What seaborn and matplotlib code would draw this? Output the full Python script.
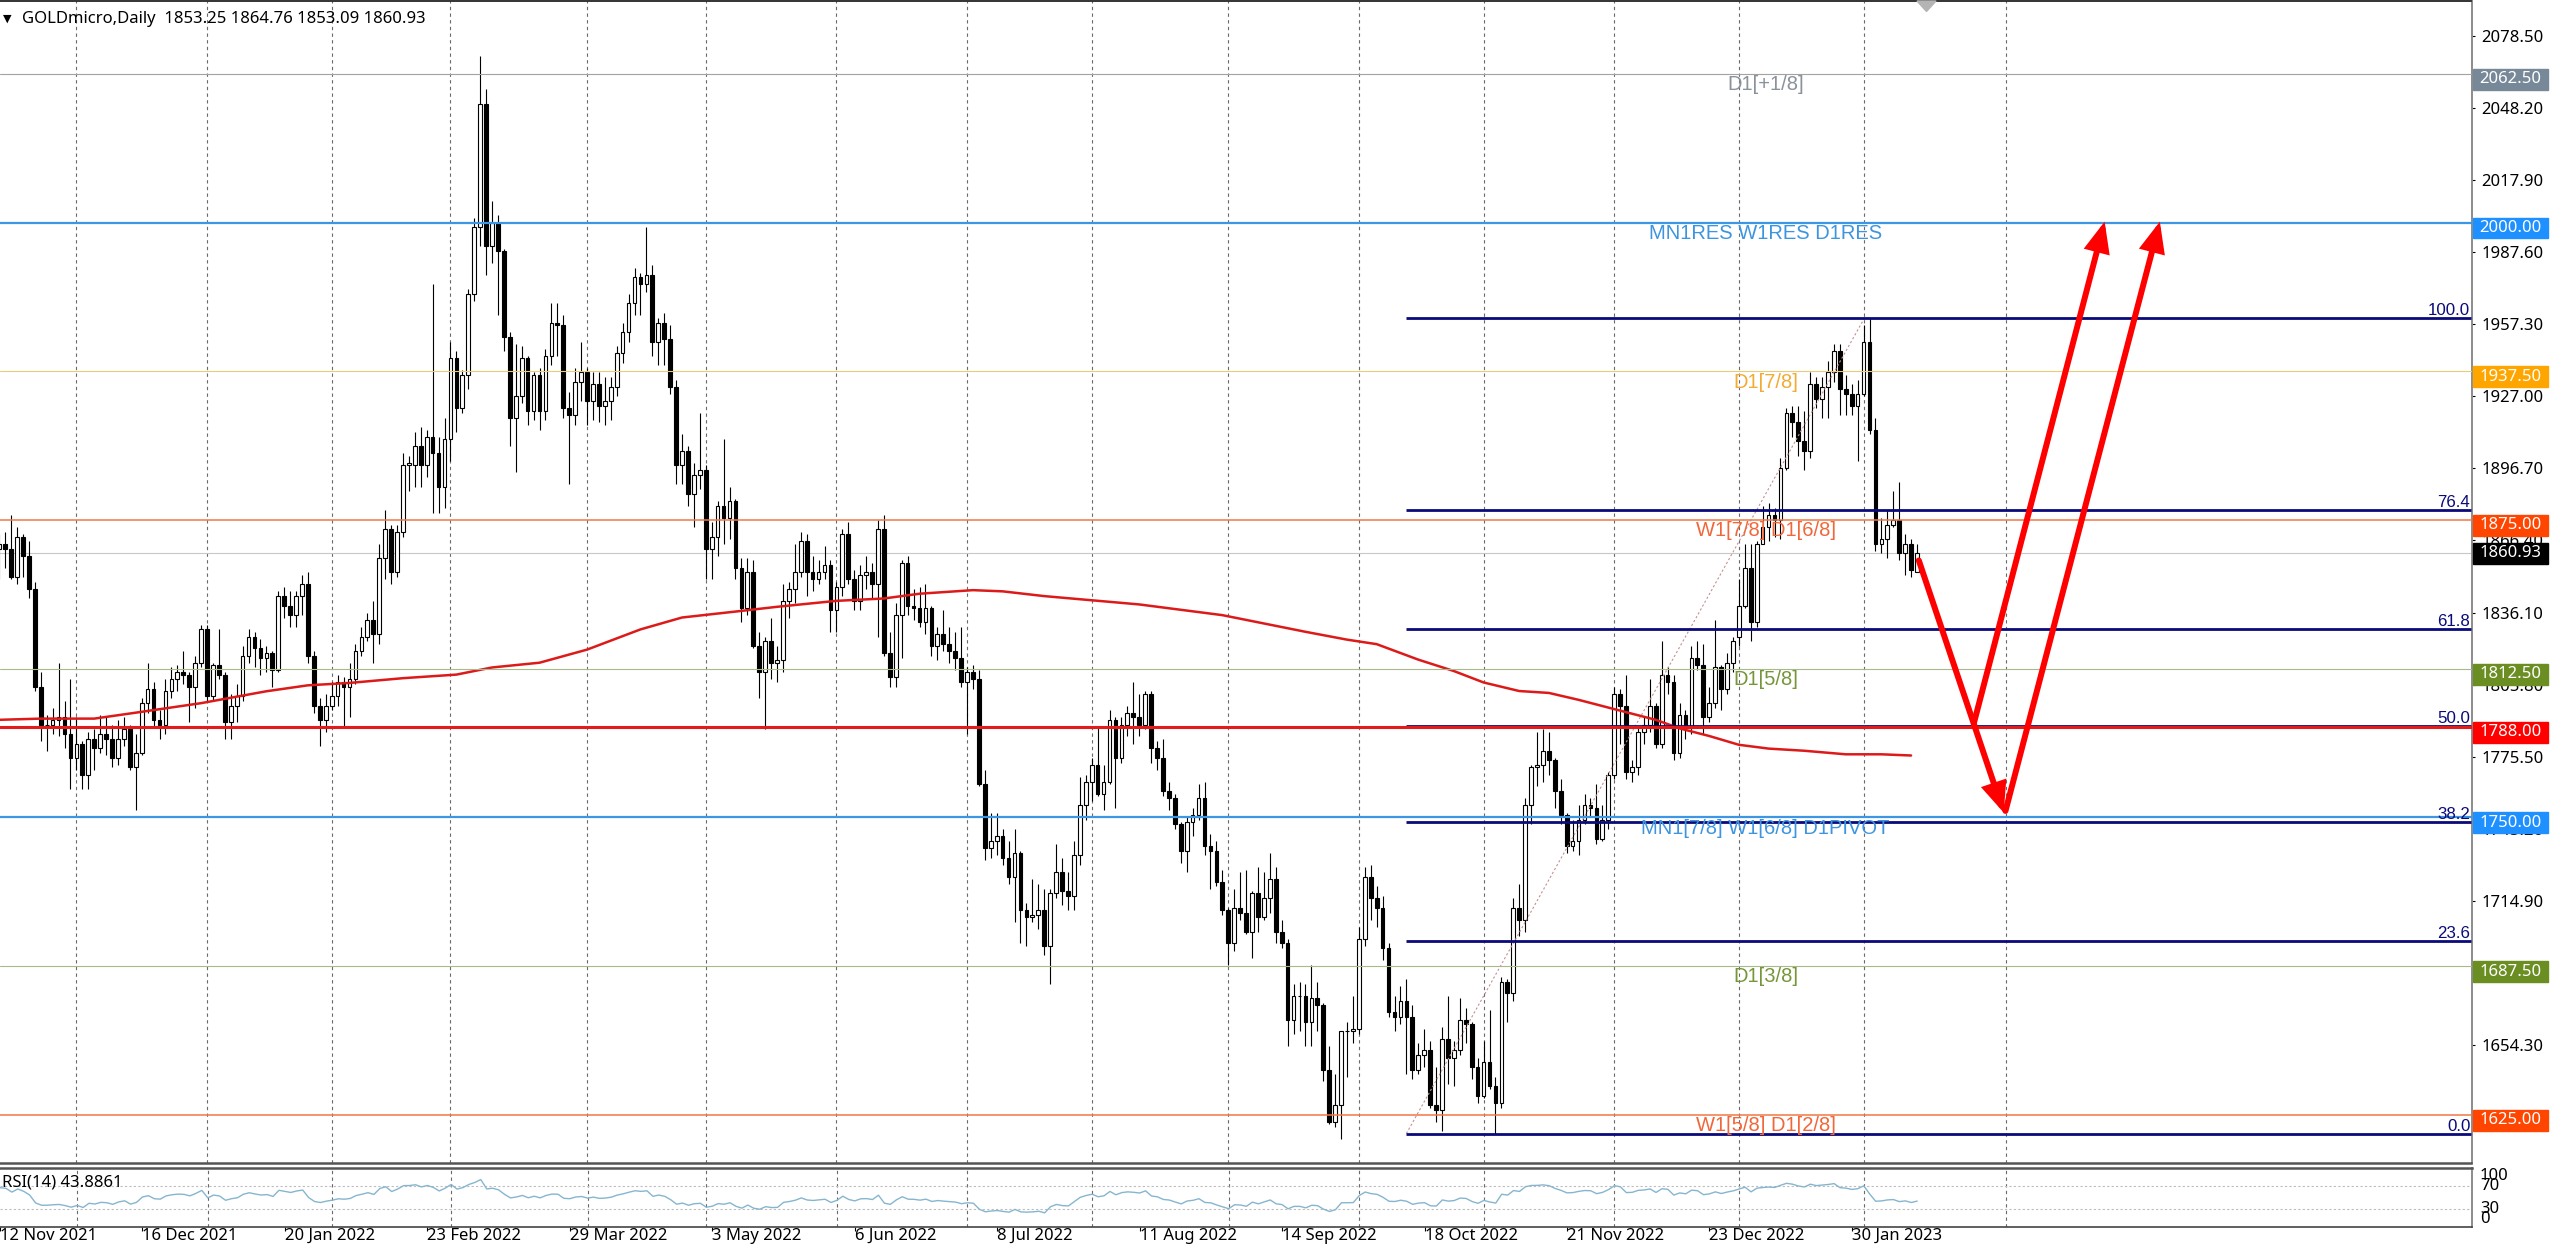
import numpy as np
import pandas as pd
import matplotlib
matplotlib.use("Agg")
import matplotlib.pyplot as plt
import matplotlib.transforms as mtransforms
from matplotlib.patches import Rectangle, Polygon
import seaborn as sns

# daily bars, bar 0 = 12 Nov 2021 ... bar 323 = 14 Feb 2023
OPEN = [1863, 1865, 1863, 1851, 1868, 1860, 1846, 1805, 1789, 1789, 1791, 1792, 1785, 1775, 1781, 1768, 1783, 1779, 1785, 1783,
        1775, 1783, 1787, 1771, 1777, 1798, 1804, 1791, 1789, 1803, 1808, 1811, 1810, 1805, 1815, 1829, 1801, 1814, 1810, 1790,
        1797, 1801, 1818, 1826, 1821, 1817, 1819, 1812, 1843, 1839, 1835, 1843, 1848, 1818, 1797, 1791, 1797, 1801, 1807, 1805,
        1808, 1820, 1826, 1833, 1827, 1859, 1871, 1853, 1870, 1898, 1898, 1906, 1898, 1910, 1903, 1889, 1909, 1943, 1922, 1936,
        1970, 1998, 2050, 1990, 2000, 1988, 1952, 1918, 1927, 1943, 1921, 1936, 1921, 1944, 1958, 1957, 1922, 1919, 1933, 1937,
        1925, 1932, 1923, 1925, 1931, 1945, 1954, 1966, 1977, 1974, 1978, 1950, 1958, 1951, 1931, 1898, 1904, 1886, 1894, 1896,
        1863, 1868, 1881, 1876, 1883, 1855, 1838, 1853, 1822, 1811, 1824, 1815, 1816, 1841, 1846, 1853, 1866, 1853, 1850, 1853,
        1856, 1837, 1847, 1869, 1850, 1841, 1852, 1853, 1848, 1871, 1819, 1809, 1835, 1857, 1839, 1838, 1832, 1838, 1822, 1827,
        1823, 1820, 1817, 1807, 1811, 1808, 1764, 1737, 1740, 1742, 1733, 1725, 1735, 1711, 1708, 1709, 1711, 1696, 1718, 1727,
        1719, 1717, 1734, 1755, 1765, 1772, 1760, 1765, 1791, 1775, 1789, 1794, 1792, 1789, 1802, 1779, 1775, 1761, 1758, 1747,
        1736, 1748, 1751, 1758, 1738, 1736, 1723, 1711, 1697, 1712, 1710, 1702, 1718, 1708, 1716, 1724, 1702, 1697, 1665, 1675,
        1675, 1664, 1674, 1671, 1644, 1622, 1629, 1660, 1660, 1661, 1699, 1725, 1716, 1712, 1695, 1668, 1666, 1673, 1666, 1644,
        1650, 1652, 1629, 1627, 1657, 1649, 1652, 1665, 1663, 1645, 1633, 1647, 1637, 1630, 1681, 1676, 1712, 1707, 1755, 1771,
        1772, 1778, 1774, 1761, 1751, 1738, 1740, 1749, 1755, 1754, 1741, 1749, 1768, 1802, 1797, 1769, 1771, 1786, 1789, 1797,
        1781, 1810, 1807, 1777, 1793, 1788, 1817, 1814, 1792, 1798, 1813, 1804, 1815, 1826, 1839, 1855, 1832, 1865, 1872, 1877,
        1875, 1897, 1920, 1916, 1908, 1904, 1932, 1926, 1931, 1937, 1946, 1930, 1928, 1923, 1928, 1950, 1913, 1865, 1867, 1873,
        1875, 1861, 1865, 1853.25]
HIGH = [1869, 1870, 1877, 1872, 1869, 1866, 1849, 1811, 1793, 1796, 1815, 1799, 1808, 1792, 1782, 1786, 1787, 1793, 1792, 1789,
        1791, 1792, 1789, 1785, 1800, 1815, 1807, 1795, 1808, 1813, 1814, 1820, 1811, 1818, 1831, 1831, 1815, 1829, 1811, 1802,
        1806, 1822, 1829, 1828, 1825, 1822, 1820, 1845, 1847, 1845, 1845, 1852, 1853, 1820, 1800, 1802, 1807, 1810, 1809, 1815,
        1823, 1830, 1836, 1841, 1865, 1879, 1873, 1873, 1903, 1902, 1912, 1914, 1913, 1974, 1910, 1918, 1950, 1946, 1938, 1972,
        2002, 2070, 2056, 2009, 2003, 1989, 1954, 1949, 1948, 1944, 1937, 1939, 1947, 1966, 1966, 1961, 1929, 1939, 1950, 1939,
        1937, 1937, 1935, 1935, 1948, 1958, 1970, 1981, 1979, 1998, 1982, 1960, 1962, 1957, 1934, 1911, 1906, 1899, 1920, 1898,
        1874, 1883, 1909, 1889, 1884, 1859, 1859, 1858, 1828, 1826, 1834, 1822, 1848, 1849, 1865, 1870, 1869, 1860, 1858, 1864,
        1858, 1849, 1871, 1874, 1854, 1856, 1860, 1857, 1875, 1877, 1828, 1840, 1858, 1860, 1846, 1847, 1848, 1839, 1830, 1837,
        1830, 1828, 1830, 1813, 1814, 1812, 1770, 1752, 1752, 1745, 1740, 1745, 1736, 1714, 1724, 1722, 1720, 1720, 1739, 1733,
        1727, 1740, 1767, 1768, 1775, 1788, 1772, 1795, 1792, 1792, 1797, 1807, 1802, 1803, 1803, 1782, 1783, 1765, 1760, 1748,
        1750, 1754, 1764, 1765, 1743, 1740, 1728, 1712, 1720, 1727, 1728, 1719, 1729, 1727, 1735, 1729, 1707, 1699, 1680, 1681,
        1680, 1688, 1681, 1672, 1654, 1642, 1660, 1664, 1675, 1704, 1729, 1730, 1721, 1717, 1697, 1675, 1679, 1682, 1671, 1655,
        1661, 1656, 1645, 1662, 1675, 1656, 1674, 1670, 1664, 1649, 1656, 1669, 1641, 1683, 1682, 1716, 1722, 1758, 1772, 1786,
        1787, 1786, 1775, 1766, 1752, 1749, 1755, 1760, 1758, 1764, 1755, 1769, 1805, 1804, 1810, 1774, 1788, 1792, 1808, 1798,
        1824, 1813, 1810, 1798, 1795, 1822, 1824, 1823, 1805, 1833, 1814, 1819, 1826, 1850, 1865, 1865, 1866, 1881, 1882, 1880,
        1901, 1922, 1923, 1923, 1921, 1937, 1935, 1935, 1942, 1949, 1949, 1936, 1932, 1934, 1957, 1960, 1918, 1876, 1879, 1887,
        1891, 1869, 1867, 1864.76]
LOW = [1850, 1855, 1850, 1848, 1851, 1842, 1803, 1782, 1778, 1785, 1784, 1779, 1762, 1770, 1762, 1762, 1770, 1777, 1776, 1771,
       1772, 1780, 1770, 1753, 1776, 1794, 1788, 1783, 1785, 1800, 1803, 1806, 1790, 1796, 1813, 1799, 1799, 1808, 1783, 1783,
       1790, 1799, 1815, 1813, 1810, 1811, 1805, 1811, 1834, 1830, 1830, 1835, 1815, 1794, 1780, 1786, 1795, 1797, 1788, 1792,
       1806, 1818, 1824, 1815, 1823, 1850, 1848, 1851, 1868, 1887, 1889, 1889, 1893, 1878, 1878, 1880, 1900, 1912, 1920, 1930,
       1967, 1990, 1978, 1983, 1961, 1946, 1906, 1895, 1924, 1915, 1917, 1913, 1917, 1940, 1944, 1918, 1890, 1915, 1925, 1915,
       1917, 1916, 1915, 1917, 1927, 1941, 1950, 1961, 1961, 1971, 1944, 1940, 1940, 1928, 1890, 1890, 1881, 1872, 1888, 1850,
       1850, 1860, 1865, 1867, 1850, 1832, 1835, 1821, 1800, 1787, 1808, 1807, 1811, 1834, 1840, 1851, 1843, 1845, 1848, 1850,
       1828, 1828, 1843, 1848, 1837, 1837, 1846, 1842, 1826, 1818, 1805, 1805, 1817, 1835, 1833, 1830, 1827, 1818, 1816, 1820,
       1815, 1812, 1805, 1785, 1804, 1763, 1732, 1733, 1734, 1730, 1722, 1706, 1697, 1696, 1706, 1703, 1692, 1680, 1716, 1713,
       1711, 1711, 1730, 1749, 1757, 1759, 1753, 1764, 1754, 1773, 1784, 1781, 1784, 1787, 1773, 1770, 1759, 1753, 1745, 1731,
       1727, 1742, 1749, 1734, 1720, 1721, 1709, 1688, 1694, 1707, 1701, 1691, 1702, 1707, 1710, 1697, 1695, 1654, 1659, 1660,
       1654, 1654, 1660, 1639, 1621, 1620, 1615, 1641, 1655, 1659, 1696, 1707, 1704, 1690, 1666, 1660, 1663, 1642, 1640, 1642,
       1645, 1628, 1622, 1618, 1638, 1637, 1650, 1655, 1640, 1630, 1632, 1636, 1617, 1628, 1664, 1673, 1700, 1702, 1747, 1763,
       1765, 1768, 1754, 1747, 1735, 1736, 1734, 1747, 1750, 1739, 1740, 1745, 1766, 1781, 1766, 1765, 1768, 1781, 1786, 1779,
       1779, 1802, 1774, 1775, 1783, 1785, 1812, 1785, 1790, 1796, 1795, 1802, 1811, 1822, 1838, 1824, 1830, 1865, 1866, 1868,
       1867, 1896, 1910, 1902, 1896, 1901, 1922, 1918, 1918, 1933, 1919, 1919, 1919, 1900, 1927, 1911, 1862, 1861, 1859, 1872,
       1858, 1852, 1851, 1853.09]
CLOSE = [1865, 1863, 1851, 1868, 1860, 1846, 1805, 1789, 1789, 1791, 1792, 1785, 1775, 1781, 1768, 1783, 1779, 1785, 1783, 1775,
         1783, 1787, 1771, 1777, 1798, 1804, 1791, 1789, 1803, 1808, 1811, 1810, 1805, 1815, 1829, 1801, 1814, 1810, 1790, 1797,
         1801, 1818, 1826, 1821, 1817, 1819, 1812, 1843, 1839, 1835, 1843, 1848, 1818, 1797, 1791, 1797, 1801, 1807, 1805, 1808,
         1820, 1826, 1833, 1827, 1859, 1871, 1853, 1870, 1898, 1899, 1906, 1898, 1910, 1903, 1889, 1909, 1943, 1922, 1936, 1970,
         1998, 2050, 1990, 2000, 1988, 1952, 1918, 1927, 1943, 1921, 1936, 1921, 1944, 1958, 1957, 1922, 1919, 1933, 1937, 1925,
         1932, 1923, 1925, 1931, 1945, 1954, 1966, 1977, 1974, 1978, 1950, 1958, 1951, 1931, 1898, 1904, 1886, 1894, 1896, 1863,
         1868, 1881, 1876, 1883, 1855, 1838, 1853, 1822, 1811, 1824, 1815, 1816, 1841, 1846, 1853, 1866, 1853, 1850, 1853, 1856,
         1837, 1847, 1869, 1850, 1841, 1852, 1853, 1848, 1871, 1819, 1809, 1835, 1857, 1839, 1838, 1832, 1838, 1822, 1827, 1823,
         1820, 1817, 1807, 1811, 1808, 1764, 1737, 1740, 1742, 1733, 1725, 1735, 1711, 1708, 1709, 1711, 1696, 1718, 1727, 1719,
         1717, 1734, 1755, 1765, 1772, 1760, 1765, 1791, 1775, 1789, 1794, 1792, 1789, 1802, 1779, 1775, 1761, 1758, 1747, 1736,
         1748, 1751, 1758, 1738, 1736, 1723, 1711, 1697, 1712, 1710, 1702, 1718, 1708, 1716, 1724, 1702, 1697, 1665, 1675, 1675,
         1664, 1674, 1671, 1644, 1622, 1629, 1660, 1660, 1661, 1699, 1725, 1716, 1712, 1695, 1668, 1666, 1673, 1666, 1644, 1650,
         1652, 1629, 1627, 1657, 1649, 1652, 1665, 1663, 1645, 1633, 1647, 1637, 1630, 1681, 1676, 1712, 1707, 1755, 1771, 1772,
         1778, 1774, 1761, 1751, 1738, 1740, 1749, 1755, 1754, 1741, 1749, 1768, 1802, 1797, 1769, 1771, 1786, 1789, 1797, 1781,
         1810, 1807, 1777, 1793, 1788, 1817, 1814, 1792, 1798, 1813, 1804, 1815, 1824, 1839, 1855, 1832, 1865, 1872, 1877, 1875,
         1897, 1920, 1916, 1908, 1904, 1932, 1926, 1931, 1937, 1946, 1930, 1928, 1923, 1928, 1950, 1913, 1865, 1867, 1873, 1875,
         1861, 1865, 1854, 1860.93]

# 200-day moving average, read at sample bars
MA_BARS = [0, 7, 16, 23, 34, 45, 52, 59, 68, 77, 83, 91, 99, 108, 115, 124, 131, 141, 149, 155, 164, 169, 176,
           192, 206, 220, 227, 232, 239, 245, 250, 256, 261, 266, 272, 279, 283, 288, 293, 298, 304, 311, 317, 322]
MA_VALUES = [1791, 1791.5, 1791.5, 1794, 1798, 1803, 1805.5, 1806.5, 1808.5, 1810, 1813, 1815, 1820.5, 1829, 1834,
             1836.5, 1838.5, 1841, 1842, 1844, 1845.5, 1845, 1843, 1839.5, 1835, 1828, 1824.7, 1822.8, 1816.3, 1811.5,
             1806.7, 1803.1, 1802.3, 1799.4, 1795.5, 1791, 1787.4, 1784.2, 1780.5, 1778.9, 1778, 1776.5, 1776.5, 1776]

# RSI(14) starting averages before the first visible bar
RSI_SEED_GAIN = 6.0
RSI_SEED_LOSS = 3.0
RSI_LEVELS = [70, 30]
RSI_TICKS = [100, 70, 30, 0]

DATE_LABELS = ["12 Nov 2021", "16 Dec 2021", "20 Jan 2022", "23 Feb 2022", "29 Mar 2022", "3 May 2022", "6 Jun 2022",
               "8 Jul 2022", "11 Aug 2022", "14 Sep 2022", "18 Oct 2022", "21 Nov 2022", "23 Dec 2022", "30 Jan 2023"]
DATE_BARS = [0, 24, 48, 72, 96, 120, 144, 168, 192, 216, 240, 264, 288, 312]
MONTH_GRID_BARS = [13, 35, 56, 76, 99, 119, 141, 163, 184, 207, 229, 250, 272, 293, 314, 338]

PRICE_TICKS = [2078.50, 2048.20, 2017.90, 1987.60, 1957.30, 1927.00, 1896.70, 1866.40, 1836.10, 1805.80,
               1775.50, 1745.20, 1714.90, 1684.60, 1654.30, 1624.00]

LEVEL_PRICES = [2062.5, 2000.0, 1937.5, 1875.0, 1812.5, 1788.0, 1750.0, 1687.5, 1625.0]
LEVEL_NAMES = ["D1[+1/8]", "MN1RES W1RES D1RES", "D1[7/8]", "W1[7/8] D1[6/8]", "D1[5/8]", "",
               "MN1[7/8] W1[6/8] D1PIVOT", "D1[3/8]", "W1[5/8] D1[2/8]"]
LAST_PRICE = 1860.93

FIB_LOW = 1617.1
FIB_HIGH = 1960.1
FIB_START_BAR = 237
FIB_END_BAR = 314.2
FIB_RATIOS = [0.0, 23.6, 38.2, 50.0, 61.8, 76.4, 100.0]

ARROW_STARTS = [(323.3, 1858.0), (332.6, 1789.8), (337.9, 1752.7)]
ARROW_ENDS = [(337.6, 1752.0), (354.6, 2000.4), (363.9, 2000.4)]

HEADER = "GOLDmicro,Daily  1853.25 1864.76 1853.09 1860.93"
RSI_TEXT = "RSI(14) 43.8861"

# styles
LINE_COLORS = ["#a3a3a3", "#3d95e6", "#e9cc7a", "#f07845", "#a9b98c", "#e31b1b", "#3d95e6", "#a9b98c", "#f07845"]
LINE_WIDTHS = [0.8, 1.6, 0.8, 1.1, 0.8, 2.2, 1.6, 0.8, 1.1]
TEXT_COLORS = ["#8a929a", "#3d95e0", "#f2ab35", "#f0683a", "#76963a", "#000000", "#3d95e0", "#76963a", "#f0683a"]
BOX_COLORS = ["#778899", "#1e90ff", "#ffa500", "#ff4500", "#6b8e23", "#ff0000", "#1e90ff", "#6b8e23", "#ff4500"]
FIB_COLOR = "#0a0a7a"
MA_COLOR = "#dd1a1a"
RSI_COLOR = "#86b6cf"
GRID_COLOR = "#6a6a6a"

W, H = 2560, 1248
PX_PER_BAR = 5.9375
X_LEFT = 0.8 / PX_PER_BAR
X_RIGHT = (2471.5 + 0.8) / PX_PER_BAR
Y_TOP = 2000 + (222.6 - 1) / 2.379
Y_BOTTOM = 2000 - (1163 - 222.6) / 2.379


def px_rect(x0, y0, x1, y1):
    return [x0 / W, 1 - y1 / H, (x1 - x0) / W, (y1 - y0) / H]


sns.set_theme(style="white")
plt.rcParams["font.family"] = ["Noto Sans", "DejaVu Sans"]
plt.rcParams["font.size"] = 12

fig = plt.figure(figsize=(W / 100, H / 100), dpi=100)
fig.patch.set_facecolor("white")
ax = fig.add_axes(px_rect(0, 1, 2471.5, 1163))
ax_rsi = fig.add_axes(px_rect(0, 1168, 2471.5, 1227))

for a in (ax, ax_rsi):
    a.set_facecolor("white")
    a.spines["left"].set_visible(False)
    a.spines["right"].set_color("#8c8c8c")
    a.spines["right"].set_linewidth(1.4)
ax.spines["top"].set_color("#333333")
ax.spines["top"].set_linewidth(1.4)
ax.spines["bottom"].set_color("#555555")
ax.spines["bottom"].set_linewidth(1.8)
ax_rsi.spines["top"].set_color("#555555")
ax_rsi.spines["top"].set_linewidth(1.8)
ax_rsi.spines["bottom"].set_color("#444444")
ax_rsi.spines["bottom"].set_linewidth(1.2)

# month grid
ax.vlines(MONTH_GRID_BARS, Y_BOTTOM, Y_TOP, colors=GRID_COLOR, lw=0.8, linestyles=(0, (3, 3)), zorder=1)
ax_rsi.vlines(MONTH_GRID_BARS, 0, 100, colors=GRID_COLOR, lw=0.8, linestyles=(0, (3, 3)), zorder=1)

# current price line
ax.axhline(LAST_PRICE, color="#c8c8c8", lw=0.8, zorder=1.5)

# candles
x = np.arange(len(CLOSE))
o, h, l, c = (np.array(v, dtype=float) for v in (OPEN, HIGH, LOW, CLOSE))
up = c >= o
ax.vlines(x, l, h, colors="black", lw=0.8, zorder=3)
ax.bar(x[up], (c - o)[up], bottom=o[up], width=0.62, color="white", edgecolor="black", linewidth=0.8, zorder=4)
ax.bar(x[~up], (o - c)[~up], bottom=c[~up], width=0.62, color="black", edgecolor="black", linewidth=0.8, zorder=4)

# moving average
ma = pd.DataFrame({"bar": MA_BARS, "ma": MA_VALUES})
sns.lineplot(data=ma, x="bar", y="ma", ax=ax, color=MA_COLOR, lw=1.8, zorder=5)

# fibonacci
fib_range = FIB_HIGH - FIB_LOW
ax.plot([FIB_START_BAR, FIB_END_BAR], [FIB_LOW, FIB_HIGH], color="#c49090", lw=0.8, ls=(0, (2, 2)), zorder=5)
for r in FIB_RATIOS:
    p = FIB_LOW + fib_range * r / 100
    ax.hlines(p, FIB_START_BAR, X_RIGHT, colors=FIB_COLOR, lw=2.0, zorder=6)
    ax.text(0.9995, p, f"{r:.1f}", transform=mtransforms.blended_transform_factory(ax.transAxes, ax.transData),
            ha="right", va="bottom", color=FIB_COLOR, fontsize=12.2, family=["Liberation Sans", "DejaVu Sans"], zorder=7)

# murrey levels
LABEL_BAR = 297.5
for p, name, lc, lw, tc in zip(LEVEL_PRICES, LEVEL_NAMES, LINE_COLORS, LINE_WIDTHS, TEXT_COLORS):
    ax.axhline(p, color=lc, lw=lw, zorder=6.5)
    if name:
        ax.annotate(name, xy=(LABEL_BAR, p), xytext=(0, -1), textcoords="offset points", ha="center", va="top",
                    color=tc, fontsize=14.5, family=["Liberation Sans", "DejaVu Sans"], zorder=7)

# arrows
for (x0, y0), (x1, y1) in zip(ARROW_STARTS, ARROW_ENDS):
    ax.annotate("", xy=(x1, y1), xytext=(x0, y0), annotation_clip=False,
                arrowprops=dict(arrowstyle="-|>,head_length=0.75,head_width=0.32", color="#ff0000", lw=4.3,
                                mutation_scale=20, shrinkA=0, shrinkB=0, joinstyle="miter"),
                zorder=8)

# chart shift marker and header
bt = mtransforms.blended_transform_factory(ax.transData, ax.transAxes)
ax.add_patch(Polygon([[323.0, 1.0], [326.2, 1.0], [324.6, 0.991]], closed=True, transform=bt,
                     color="#b4b4b4", zorder=9, clip_on=False))
ax.text(0.0012, 0.9848, "\u25bc", transform=ax.transAxes, ha="left", va="center", fontsize=8,
        family=["DejaVu Sans"], color="black", zorder=9)
ax.text(0.0089, 0.9848, HEADER, transform=ax.transAxes, ha="left", va="center", fontsize=12, color="black", zorder=9)

# price axis
ax.set_xlim(X_LEFT, X_RIGHT)
ax.set_ylim(Y_BOTTOM, Y_TOP)
ax.yaxis.tick_right()
ax.set_yticks(PRICE_TICKS, labels=[f"{t:.2f}" for t in PRICE_TICKS])
ax.tick_params(axis="y", direction="out", length=2.5, width=0.8, pad=4.5, labelsize=12, colors="black", right=True, left=False)
ax.tick_params(axis="x", bottom=False, labelbottom=False)
ax.set_xlabel("")
ax.set_ylabel("")

yt = mtransforms.blended_transform_factory(ax.transAxes, ax.transData)
box_x0 = 2473 / 2471.5
box_w = 75 / 2471.5
box_h = 20.7 / 2.379
box_off = 5.5 / 2.379
for p, bc in zip(LEVEL_PRICES, BOX_COLORS):
    yc = p - box_off
    ax.add_patch(Rectangle((box_x0, yc - box_h / 2), box_w, box_h, transform=yt, color=bc, clip_on=False, zorder=10))
    ax.text(box_x0 + box_w / 2, yc, f"{p:.2f}", transform=yt, ha="center", va="center", color="white",
            fontsize=12, zorder=11, clip_on=False)
ax.add_patch(Rectangle((box_x0, LAST_PRICE - box_h / 2), box_w, box_h, transform=yt, color="black",
                       clip_on=False, zorder=10))
ax.text(box_x0 + box_w / 2, LAST_PRICE, f"{LAST_PRICE:.2f}", transform=yt, ha="center", va="center",
        color="white", fontsize=12, zorder=11, clip_on=False)

# RSI panel
closes = np.array(CLOSE, dtype=float)
gain, loss = RSI_SEED_GAIN, RSI_SEED_LOSS
rsi = [100 - 100 / (1 + gain / loss)]
for d in np.diff(closes):
    gain = (gain * 13 + max(d, 0)) / 14
    loss = (loss * 13 + max(-d, 0)) / 14
    rsi.append(100 - 100 / (1 + gain / loss))
rsi_df = pd.DataFrame({"bar": x, "rsi": rsi})
for lev in RSI_LEVELS:
    ax_rsi.axhline(lev, color="#bdbdbd", lw=0.8, ls=(0, (2, 2)), zorder=1)
sns.lineplot(data=rsi_df, x="bar", y="rsi", ax=ax_rsi, color=RSI_COLOR, lw=1.0, zorder=3)
ax_rsi.set_xlim(X_LEFT, X_RIGHT)
ax_rsi.set_ylim(0, 100)
ax_rsi.set_yticks([])
ax_rsi.set_xlabel("")
ax_rsi.set_ylabel("")
ax_rsi.text(0.0008, 0.76, RSI_TEXT, transform=ax_rsi.transAxes, ha="left", va="center", fontsize=12, color="black")
rt = mtransforms.blended_transform_factory(ax_rsi.transAxes, ax_rsi.transData)
rsi_lab_x = 1 + 8.5 / 2471.5
for t in RSI_TICKS:
    va = "top" if t == 100 else ("bottom" if t == 0 else "center")
    ax_rsi.text(rsi_lab_x, t, str(t), transform=rt, ha="left", va=va, fontsize=12, color="black", clip_on=False)

ax_rsi.set_xticks(DATE_BARS, labels=DATE_LABELS)
ax_rsi.tick_params(axis="x", direction="out", length=3, width=0.8, pad=-2.5, labelsize=12, colors="black", bottom=True)
for lab in ax_rsi.get_xticklabels():
    lab.set_ha("left")

fig.savefig("out.png", dpi=100)
